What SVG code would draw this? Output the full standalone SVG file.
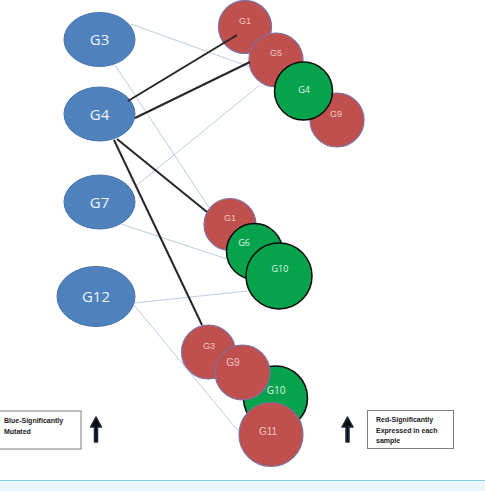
<svg xmlns="http://www.w3.org/2000/svg" width="485" height="491" viewBox="0 0 485 491">
<style>
.blue{fill:#4f81bd;stroke:#4573ad;stroke-width:1}
.red{fill:#c0504d;stroke:#7a72a8;stroke-width:1.2}
.green{fill:#07a34c;stroke:#0a0a0a;stroke-width:1.5}
.bt{font-family:"Open Sans","Liberation Sans",sans-serif;font-size:15px;fill:#eef3fa;text-anchor:middle}
.rt{font-family:"Liberation Sans",sans-serif;font-size:9px;fill:#f3c7c2;text-anchor:middle}
.gt{font-family:"Open Sans","Liberation Sans",sans-serif;font-size:9px;fill:#dff3e5;text-anchor:middle}
.thick{stroke:#262626;stroke-width:2;fill:none}
.thin{stroke:#a8bddf;stroke-width:0.8;fill:none}
.leg{font-family:"Liberation Sans",sans-serif;font-size:7px;font-weight:bold;fill:#1a1a1a}
.box{fill:#fff;stroke:#7f7f7f;stroke-width:1}
.arrow{fill:#0b0b0b;stroke:#1b2a44;stroke-width:1.5;stroke-linejoin:round}
</style>
<rect x="0" y="0" width="485" height="491" fill="#fff"/>
<rect x="0" y="480" width="485" height="11" fill="#eaf6fc"/>
<line x1="0" y1="480.5" x2="485" y2="480.5" stroke="#88cbe3" stroke-width="1"/>

<g id="node-G3"><ellipse class="blue" cx="99.5" cy="39.5" rx="35.5" ry="27"/><text class="bt" x="99.5" y="45">G3</text></g>
<g id="node-G4"><ellipse class="blue" cx="99.5" cy="114" rx="35.5" ry="27"/><text class="bt" x="99.5" y="119.5">G4</text></g>
<g id="node-G7"><ellipse class="blue" cx="99.5" cy="202" rx="35.5" ry="27"/><text class="bt" x="99.5" y="207.5">G7</text></g>
<g id="node-G12"><ellipse class="blue" cx="96" cy="296.5" rx="39" ry="30"/><text class="bt" x="96" y="302">G12</text></g>

<g id="top-G9"><circle class="red" cx="337" cy="120" r="27"/><text class="rt" x="336" y="117">G9</text></g>
<g id="top-G1"><circle class="red" cx="245" cy="27" r="26.5"/><text class="rt" x="245" y="24">G1</text></g>
<g id="top-G5"><circle class="red" cx="276" cy="60" r="27"/><text class="rt" x="276" y="56">G5</text></g>
<g id="top-G4"><circle class="green" cx="303.5" cy="91" r="29"/><text class="gt" x="304" y="93">G4</text></g>

<g id="mid-G1"><circle class="red" cx="230" cy="224.5" r="26"/><text class="rt" x="230" y="221">G1</text></g>
<g id="mid-G6"><circle class="green" cx="254.5" cy="251.5" r="28"/><text class="gt" x="244" y="246">G6</text></g>
<g id="mid-G10"><circle class="green" cx="279" cy="276" r="33"/><text class="gt" x="280" y="272">G10</text></g>

<g id="bot-G3"><circle class="red" cx="208.5" cy="352" r="27"/><text class="rt" x="209" y="349">G3</text></g>
<g id="bot-G10"><circle class="green" cx="275.5" cy="398" r="32"/><text class="gt" x="276" y="394" style="font-size:10px">G10</text></g>
<g id="bot-G9"><circle class="red" cx="242.5" cy="372.5" r="27.5"/><text class="rt" x="233" y="366" style="font-size:10px">G9</text></g>
<g id="bot-G11"><circle class="red" cx="271" cy="434.5" r="32"/><text class="rt" x="268" y="435" style="font-size:10px">G11</text></g>

<g id="connectors">
<line class="thin" x1="131" y1="24" x2="250" y2="67"/>
<line class="thin" x1="115" y1="65" x2="210" y2="209"/>
<line class="thin" x1="137" y1="185" x2="260" y2="85"/>
<line class="thin" x1="121" y1="224" x2="227" y2="259"/>
<line class="thin" x1="135" y1="303" x2="247" y2="291"/>
<line class="thin" x1="134" y1="305" x2="239" y2="432"/>
<line class="thick" x1="128" y1="101" x2="237" y2="35"/>
<line class="thick" x1="135" y1="118" x2="250" y2="62"/>
<line class="thick" x1="117" y1="139" x2="207" y2="212"/>
<line class="thick" x1="114" y1="140" x2="202" y2="325"/>
</g>

<g id="legend-blue">
<rect class="box" x="-1" y="411" width="82" height="38"/>
<text class="leg" x="4" y="423">Blue-Significantly</text>
<text class="leg" x="4" y="434">Mutated</text>
<path class="arrow" d="M94.5 442 L94.5 427 L90.5 427 L96 417 L101.5 427 L97.5 427 L97.5 442 Z"/>
</g>
<g id="legend-red">
<rect class="box" x="367.5" y="410.5" width="86" height="38"/>
<text class="leg" x="376" y="422">Red-Significantly</text>
<text class="leg" x="376" y="432.5">Expressed in each</text>
<text class="leg" x="376" y="443">sample</text>
<path class="arrow" d="M346 442 L346 427 L342 427 L347.5 417 L353 427 L349 427 L349 442 Z"/>
</g>
</svg>
